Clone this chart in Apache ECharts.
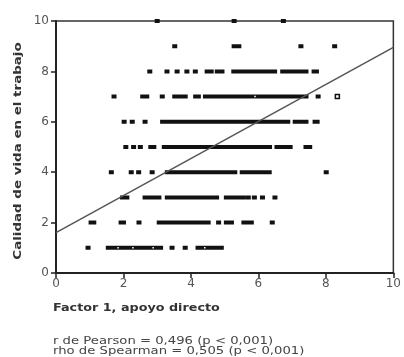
<!DOCTYPE html>
<html>
<head>
<meta charset="utf-8">
<script src="https://cdn.jsdelivr.net/npm/echarts@6/dist/echarts.min.js"></script>
<style>
  html, body { margin: 0; padding: 0; background: #fff; }
  #chart { width: 404px; height: 357px; }
</style>
</head>
<body>
<div id="chart"></div>
<script>
// x positions of the dots on each integer level of "Calidad de vida en el trabajo"
const row1 = [0.95, 1.55, 1.65, 1.75, 1.85, 1.95, 2.05, 2.15, 2.25, 2.35, 2.45, 2.55, 2.65, 2.75, 2.85, 2.95, 3.05, 3.1,
  3.44, 3.83, 4.21, 4.31, 4.41, 4.51, 4.61, 4.71, 4.81, 4.9];
const row2 = [1.04, 1.12, 1.93, 2.0, 2.46, 3.06, 3.16, 3.26, 3.36, 3.46, 3.56, 3.66, 3.76, 3.86, 3.96, 4.06, 4.16,
  4.26, 4.36, 4.46, 4.51, 4.82, 5.05, 5.14, 5.2, 5.57, 5.67, 5.79, 6.41];
const row3 = [1.97, 2.1, 2.64, 2.74, 2.84, 2.94, 3.05, 3.3, 3.4, 3.5, 3.6, 3.7, 3.8, 3.9, 4.0, 4.1, 4.2, 4.3, 4.4,
  4.5, 4.6, 4.7, 4.76, 5.05, 5.15, 5.25, 5.35, 5.45, 5.55, 5.7, 5.88, 6.12, 6.49];
const row4 = [1.64, 2.23, 2.45, 2.85, 3.3, 3.4, 3.5, 3.6, 3.7, 3.8, 3.9, 4.0, 4.1, 4.2, 4.3, 4.4, 4.5, 4.6, 4.7, 4.8,
  4.9, 5.0, 5.1, 5.2, 5.3, 5.52, 5.62, 5.72, 5.82, 5.92, 6.02, 6.12, 6.22, 6.32, 8.01];
const row5 = [2.07, 2.3, 2.5, 2.81, 2.9, 3.21, 3.31, 3.41, 3.51, 3.61, 3.71, 3.81, 3.91, 4.01, 4.11, 4.21, 4.31,
  4.41, 4.51, 4.61, 4.71, 4.81, 4.91, 5.01, 5.11, 5.21, 5.31, 5.41, 5.51, 5.61, 5.71, 5.81, 5.91, 6.01, 6.11,
  6.21, 6.33, 6.55, 6.65, 6.75, 6.85, 6.94, 7.41, 7.52];
const row6 = [2.02, 2.26, 2.64, 3.16, 3.26, 3.36, 3.46, 3.56, 3.66, 3.76, 3.86, 3.96, 4.06, 4.16, 4.26, 4.36, 4.46,
  4.56, 4.66, 4.76, 4.86, 4.96, 5.06, 5.16, 5.26, 5.36, 5.46, 5.56, 5.66, 5.76, 5.86, 5.96, 6.06, 6.16, 6.26,
  6.36, 6.46, 6.56, 6.66, 6.76, 6.87, 7.09, 7.2, 7.31, 7.41, 7.68, 7.74];
const row7 = [1.72, 2.57, 2.69, 3.15, 3.52, 3.62, 3.72, 3.83, 4.14, 4.22, 4.43, 4.53, 4.63, 4.73, 4.83, 4.93, 5.03,
  5.13, 5.23, 5.33, 5.43, 5.53, 5.63, 5.73, 5.83, 5.93, 6.03, 6.13, 6.23, 6.33, 6.43, 6.53, 6.63, 6.73, 6.83,
  6.93, 7.03, 7.13, 7.23, 7.33, 7.41, 7.77];
const row8 = [2.78, 3.29, 3.59, 3.88, 4.13, 4.48, 4.6, 4.78, 4.92, 5.27, 5.37, 5.47, 5.57, 5.67, 5.77, 5.87, 5.97,
  6.07, 6.17, 6.27, 6.37, 6.48, 6.72, 6.82, 6.92, 7.02, 7.12, 7.22, 7.32, 7.41, 7.65, 7.72];
const row9 = [3.52, 5.28, 5.42, 7.26, 8.26];
const row10 = [3.0, 5.28, 6.74];

// open squares and white specks inside the runs
const openPts = [[8.34, 7]];
const whitePts = [[5.9, 7], [1.84, 1], [2.28, 1], [2.88, 1], [4.41, 1]];

// fitted line ends
const fitLine = [[0, 1.6], [10, 8.95]];

const xTicks = [0, 2, 4, 6, 8, 10];
const yTicks = [0, 2, 4, 6, 8, 10];

const rows = [row1, row2, row3, row4, row5, row6, row7, row8, row9, row10];
const dots = [];
rows.forEach((xs, i) => xs.forEach(x => dots.push([x, i + 1])));

const chart = echarts.init(document.getElementById('chart'));
const tickText = { fontFamily: 'DejaVu Sans', fontSize: 12, color: '#555' };

chart.setOption({
  animation: false,
  grid: {
    left: 56, top: 21, width: 339, height: 252,
    show: true, borderColor: '#333', borderWidth: 1.5, backgroundColor: 'transparent'
  },
  xAxis: {
    type: 'value', min: 0, max: 10, interval: 2,
    axisLine: { show: true, onZero: false, lineStyle: { color: '#222', width: 2 } },
    axisTick: { show: true, length: 5, lineStyle: { color: '#222', width: 1.5 } },
    axisLabel: Object.assign({ margin: 5, formatter: v => xTicks.includes(v) ? String(v) : '' }, tickText),
    splitLine: { show: false }
  },
  yAxis: {
    type: 'value', min: 0, max: 10, interval: 2,
    axisLine: { show: true, onZero: false, lineStyle: { color: '#222', width: 2 } },
    axisTick: { show: true, length: 5, lineStyle: { color: '#222', width: 1.5 } },
    axisLabel: Object.assign({ margin: 7, formatter: v => yTicks.includes(v) ? String(v) : '' }, tickText),
    splitLine: { show: false }
  },
  series: [
    {
      // large mode draws the runs of dots as solid bars, like the print
      type: 'scatter', data: dots, symbol: 'rect', symbolSize: [5, 4],
      large: true, largeThreshold: 10,
      itemStyle: { color: '#111', opacity: 1, borderWidth: 0 }, z: 3
    },
    {
      type: 'scatter', data: openPts, symbol: 'rect', symbolSize: [4, 4],
      itemStyle: { color: '#fff', opacity: 1, borderColor: '#111', borderWidth: 1.5 }, z: 4
    },
    {
      type: 'scatter', data: whitePts, symbol: 'rect', symbolSize: [1.5, 1.5],
      itemStyle: { color: '#fff', opacity: 1, borderWidth: 0 }, z: 5
    },
    {
      type: 'line', data: fitLine, symbol: 'none',
      lineStyle: { color: '#555', width: 1.5 }, z: 6
    }
  ],
  graphic: [
    {
      type: 'text', x: 18, y: 151, rotation: Math.PI / 2, scaleX: 1.22,
      style: {
        text: 'Calidad de vida en el trabajo', fontFamily: 'DejaVu Sans', fontWeight: 'bold', fontSize: 11,
        fill: '#333', align: 'center', verticalAlign: 'middle'
      }
    },
    {
      type: 'text', x: 53, y: 308, scaleX: 1.16,
      style: { text: 'Factor 1, apoyo directo', fontFamily: 'DejaVu Sans', fontWeight: 'bold', fontSize: 11, fill: '#333', verticalAlign: 'middle' }
    },
    {
      type: 'text', x: 53, y: 341.5, scaleX: 1.2,
      style: { text: 'r de Pearson = 0,496 (p < 0,001)', fontFamily: 'DejaVu Sans', fontSize: 11, fill: '#444', verticalAlign: 'middle' }
    },
    {
      type: 'text', x: 53, y: 351, scaleX: 1.2,
      style: { text: 'rho de Spearman = 0,505 (p < 0,001)', fontFamily: 'DejaVu Sans', fontSize: 11, fill: '#444', verticalAlign: 'middle' }
    }
  ]
});
</script>
</body>
</html>
